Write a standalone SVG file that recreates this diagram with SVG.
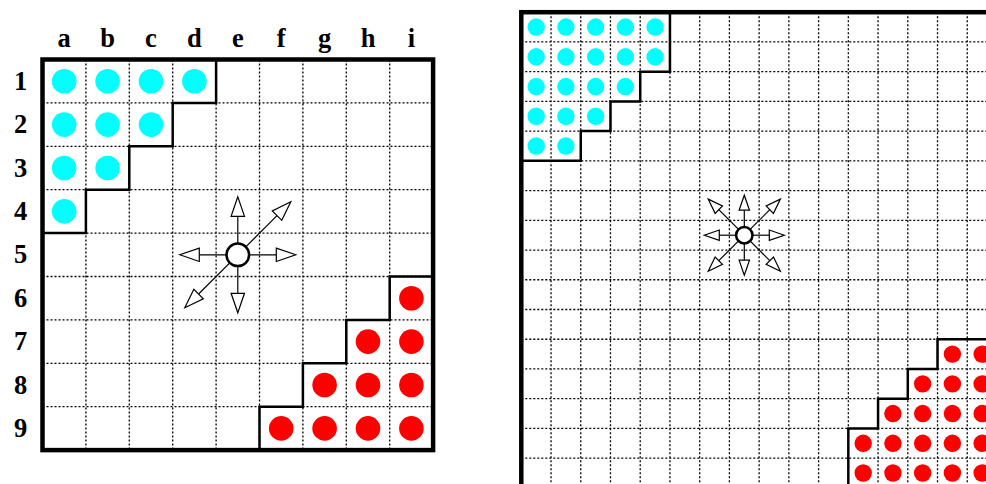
<svg xmlns="http://www.w3.org/2000/svg" width="986" height="484" viewBox="0 0 986 484">
<style>
.grid{stroke:#000;stroke-width:1.3;stroke-dasharray:2,2;fill:none}
.border{fill:none;stroke:#000;stroke-width:4.5}
.stair{fill:none;stroke:#000;stroke-width:2.5}
.cy{fill:#00FFFF}
.rd{fill:#FF0000}
.lbl{font-family:"Liberation Serif",serif;font-weight:bold;font-size:26.5px;fill:#000;text-anchor:middle}
.ln{stroke:#000;stroke-width:1.2;fill:none}
.ah{fill:#fff;stroke:#000;stroke-width:1.2;stroke-linejoin:miter}
.ctr{fill:#fff;stroke:#000;stroke-width:2.5}
</style>
<defs>
<path id="hL" class="ah" d="M0,0 L-19.5,-6.7 L-19.5,6.7 Z"/>
<path id="hR" class="ah" d="M0,0 L-15,-5.2 L-15,5.2 Z"/>
</defs>
<rect x="0" y="0" width="986" height="484" fill="#fff"/>

<g id="labels">
<text class="lbl" x="64.2" y="47">a</text>
<text class="lbl" x="107.6" y="47">b</text>
<text class="lbl" x="151" y="47">c</text>
<text class="lbl" x="194.4" y="47">d</text>
<text class="lbl" x="237.8" y="47">e</text>
<text class="lbl" x="281.2" y="47">f</text>
<text class="lbl" x="324.6" y="47">g</text>
<text class="lbl" x="368" y="47">h</text>
<text class="lbl" x="411.4" y="47">i</text>
<text class="lbl" x="20.5" y="89.8">1</text>
<text class="lbl" x="20.5" y="133.2">2</text>
<text class="lbl" x="20.5" y="176.6">3</text>
<text class="lbl" x="20.5" y="220">4</text>
<text class="lbl" x="20.5" y="263.4">5</text>
<text class="lbl" x="20.5" y="306.8">6</text>
<text class="lbl" x="20.5" y="350.2">7</text>
<text class="lbl" x="20.5" y="393.6">8</text>
<text class="lbl" x="20.5" y="437">9</text>
</g>

<g id="board-left">
<path class="grid" d="M85.9,59.5V450.1M129.3,59.5V450.1M172.7,59.5V450.1M216.1,59.5V450.1M259.5,59.5V450.1M302.9,59.5V450.1M346.3,59.5V450.1M389.7,59.5V450.1
M42.5,102.9H433.1M42.5,146.3H433.1M42.5,189.7H433.1M42.5,233.1H433.1M42.5,276.5H433.1M42.5,319.9H433.1M42.5,363.3H433.1M42.5,406.7H433.1"/>
<g id="left-cyan">
<circle class="cy" cx="64.2" cy="81.2" r="12.3"/><circle class="cy" cx="107.6" cy="81.2" r="12.3"/><circle class="cy" cx="151" cy="81.2" r="12.3"/><circle class="cy" cx="194.4" cy="81.2" r="12.3"/>
<circle class="cy" cx="64.2" cy="124.6" r="12.3"/><circle class="cy" cx="107.6" cy="124.6" r="12.3"/><circle class="cy" cx="151" cy="124.6" r="12.3"/>
<circle class="cy" cx="64.2" cy="168" r="12.3"/><circle class="cy" cx="107.6" cy="168" r="12.3"/>
<circle class="cy" cx="64.2" cy="211.4" r="12.3"/>
</g>
<g id="left-red">
<circle class="rd" cx="411.4" cy="298.2" r="12.3"/>
<circle class="rd" cx="368" cy="341.6" r="12.3"/><circle class="rd" cx="411.4" cy="341.6" r="12.3"/>
<circle class="rd" cx="324.6" cy="385" r="12.3"/><circle class="rd" cx="368" cy="385" r="12.3"/><circle class="rd" cx="411.4" cy="385" r="12.3"/>
<circle class="rd" cx="281.2" cy="428.4" r="12.3"/><circle class="rd" cx="324.6" cy="428.4" r="12.3"/><circle class="rd" cx="368" cy="428.4" r="12.3"/><circle class="rd" cx="411.4" cy="428.4" r="12.3"/>
</g>
<path class="stair" d="M216.1,59.5V102.9H172.7V146.3H129.3V189.7H85.9V233.1H42.5"/>
<path class="stair" d="M433.1,276.5H389.7V319.9H346.3V363.3H302.9V406.7H259.5V450.1"/>
<rect class="border" x="42.5" y="59.5" width="390.6" height="390.6"/>
</g>

<g id="connectors">
<g id="left-arrows">
<line class="ln" x1="237.8" y1="254.8" x2="237.8" y2="216.3"/>
<line class="ln" x1="237.8" y1="254.8" x2="237.8" y2="293.3"/>
<line class="ln" x1="237.8" y1="254.8" x2="199.3" y2="254.8"/>
<line class="ln" x1="237.8" y1="254.8" x2="276.3" y2="254.8"/>
<line class="ln" x1="237.8" y1="254.8" x2="277.0" y2="215.6"/>
<line class="ln" x1="237.8" y1="254.8" x2="198.6" y2="294.0"/>
<use href="#hL" transform="translate(237.8,196.8) rotate(-90)"/>
<use href="#hL" transform="translate(237.8,312.8) rotate(90)"/>
<use href="#hL" transform="translate(179.8,254.8) rotate(180)"/>
<use href="#hL" transform="translate(295.8,254.8)"/>
<use href="#hL" transform="translate(290.8,201.8) rotate(-45)"/>
<use href="#hL" transform="translate(184.8,307.8) rotate(135)"/>
</g>
<g id="right-arrows">
<line class="ln" x1="744.3" y1="235.2" x2="744.3" y2="210.2"/>
<line class="ln" x1="744.3" y1="235.2" x2="744.3" y2="260.2"/>
<line class="ln" x1="744.3" y1="235.2" x2="719.3" y2="235.2"/>
<line class="ln" x1="744.3" y1="235.2" x2="769.3" y2="235.2"/>
<line class="ln" x1="744.3" y1="235.2" x2="769.8" y2="209.7"/>
<line class="ln" x1="744.3" y1="235.2" x2="718.8" y2="209.7"/>
<line class="ln" x1="744.3" y1="235.2" x2="769.8" y2="260.7"/>
<line class="ln" x1="744.3" y1="235.2" x2="718.8" y2="260.7"/>
</g>
</g>

<g id="piece-left">
<circle class="ctr" cx="237.8" cy="254.8" r="11.3"/>
</g>

<g id="board-right">
<path class="grid" d="M551.03,12.2V488M580.76,12.2V488M610.49,12.2V488M640.22,12.2V488M669.95,12.2V488M699.68,12.2V488M729.41,12.2V488M759.14,12.2V488M788.87,12.2V488M818.6,12.2V488M848.33,12.2V488M878.06,12.2V488M907.79,12.2V488M937.52,12.2V488M967.25,12.2V488
M521.3,41.93H997M521.3,71.66H997M521.3,101.39H997M521.3,131.12H997M521.3,160.85H997M521.3,190.58H997M521.3,220.31H997M521.3,250.04H997M521.3,279.77H997M521.3,309.5H997M521.3,339.23H997M521.3,368.96H997M521.3,398.69H997M521.3,428.42H997M521.3,458.15H997"/>
<g id="right-cyan">
<circle class="cy" cx="536.17" cy="27.07" r="8.7"/><circle class="cy" cx="565.9" cy="27.07" r="8.7"/><circle class="cy" cx="595.63" cy="27.07" r="8.7"/><circle class="cy" cx="625.36" cy="27.07" r="8.7"/><circle class="cy" cx="655.09" cy="27.07" r="8.7"/>
<circle class="cy" cx="536.17" cy="56.8" r="8.7"/><circle class="cy" cx="565.9" cy="56.8" r="8.7"/><circle class="cy" cx="595.63" cy="56.8" r="8.7"/><circle class="cy" cx="625.36" cy="56.8" r="8.7"/><circle class="cy" cx="655.09" cy="56.8" r="8.7"/>
<circle class="cy" cx="536.17" cy="86.53" r="8.7"/><circle class="cy" cx="565.9" cy="86.53" r="8.7"/><circle class="cy" cx="595.63" cy="86.53" r="8.7"/><circle class="cy" cx="625.36" cy="86.53" r="8.7"/>
<circle class="cy" cx="536.17" cy="116.26" r="8.7"/><circle class="cy" cx="565.9" cy="116.26" r="8.7"/><circle class="cy" cx="595.63" cy="116.26" r="8.7"/>
<circle class="cy" cx="536.17" cy="145.99" r="8.7"/><circle class="cy" cx="565.9" cy="145.99" r="8.7"/>
</g>
<g id="right-red">
<circle class="rd" cx="952.39" cy="354.1" r="8.7"/><circle class="rd" cx="982.12" cy="354.1" r="8.7"/>
<circle class="rd" cx="922.66" cy="383.83" r="8.7"/><circle class="rd" cx="952.39" cy="383.83" r="8.7"/><circle class="rd" cx="982.12" cy="383.83" r="8.7"/>
<circle class="rd" cx="892.93" cy="413.56" r="8.7"/><circle class="rd" cx="922.66" cy="413.56" r="8.7"/><circle class="rd" cx="952.39" cy="413.56" r="8.7"/><circle class="rd" cx="982.12" cy="413.56" r="8.7"/>
<circle class="rd" cx="863.2" cy="443.29" r="8.7"/><circle class="rd" cx="892.93" cy="443.29" r="8.7"/><circle class="rd" cx="922.66" cy="443.29" r="8.7"/><circle class="rd" cx="952.39" cy="443.29" r="8.7"/><circle class="rd" cx="982.12" cy="443.29" r="8.7"/>
<circle class="rd" cx="863.2" cy="473.02" r="8.7"/><circle class="rd" cx="892.93" cy="473.02" r="8.7"/><circle class="rd" cx="922.66" cy="473.02" r="8.7"/><circle class="rd" cx="952.39" cy="473.02" r="8.7"/><circle class="rd" cx="982.12" cy="473.02" r="8.7"/>
</g>
<path class="stair" d="M669.95,12.2V71.66H640.22V101.39H610.49V131.12H580.76V160.85H521.3"/>
<path class="stair" d="M997,339.23H937.52V368.96H907.79V398.69H878.06V428.42H848.33V488"/>
<rect class="border" x="521.3" y="12.2" width="475.7" height="475.7"/>
</g>

<g id="right-heads">
<use href="#hR" transform="translate(744.3,195.2) rotate(-90)"/>
<use href="#hR" transform="translate(744.3,275.2) rotate(90)"/>
<use href="#hR" transform="translate(704.3,235.2) rotate(180)"/>
<use href="#hR" transform="translate(784.3,235.2)"/>
<use href="#hR" transform="translate(780.4,199.1) rotate(-45)"/>
<use href="#hR" transform="translate(708.2,199.1) rotate(-135)"/>
<use href="#hR" transform="translate(780.4,271.3) rotate(45)"/>
<use href="#hR" transform="translate(708.2,271.3) rotate(135)"/>
</g>

<g id="piece-right">
<circle class="ctr" cx="744.3" cy="235.2" r="8.2"/>
</g>
</svg>
